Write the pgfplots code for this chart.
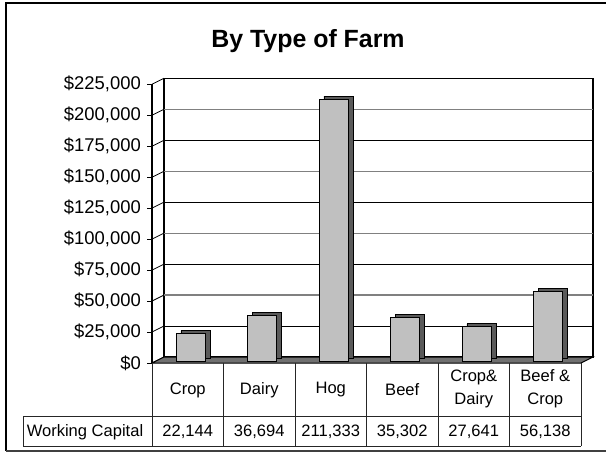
\documentclass[border=0pt]{standalone}
\usepackage{fontspec}
\setmainfont{Liberation Sans}
\usepackage{pgfplots}
\pgfplotsset{compat=1.18}
\usepackage{pgfplotstable}

\definecolor{barface}{HTML}{C0C0C0}
\definecolor{barside}{HTML}{5A5A5A}
\definecolor{floorgray}{HTML}{707070}

% working capital by type of farm
\pgfplotstableread{
idx value
0 22144
1 36694
2 211333
3 35302
4 27641
5 56138
}\farmdata

\pgfplotsset{
  farm/.style={scale only axis, width=429bp, height=278.7bp,
    xmin=-0.5, xmax=5.5, ymin=0, ymax=225000, anchor=south west, clip=false},
  bars/.style={farm, axis lines=none, ybar, bar width=29bp, bar shift=0pt},
}

\begin{document}
\begin{tikzpicture}
\path[use as bounding box] (0,0) rectangle (606bp,-453bp);

\begin{scope}[x=1bp, y=-1bp]
  \draw[line width=2bp] (607,3) -- (6,3) -- (6,451);
  \draw[line width=1.6bp, black!75] (6,451) -- (607,451);
  \node[font=\bfseries\fontsize{25}{29}\selectfont] at (308,41) {By Type of Farm};
  % back wall and grid
  \draw[line width=1.5bp, fill=white] (164,78.3) rectangle (593,357);
  \foreach \k in {1,3,5,7} {
    \draw[line width=0.8bp, black] (164,357-\k*30.967) -- (593,357-\k*30.967);
  }
  \foreach \k in {2,4,6,8} {
    \draw[line width=1.2bp, black!50] (164,357-\k*30.967) -- (593,357-\k*30.967);
  }
  \foreach \k in {0,...,9} {
    \draw[line width=0.8bp] (152,363-\k*30.967) -- (164,357-\k*30.967);
  }
  % floor
  \draw[fill=floorgray, line width=1bp] (152,363) -- (581,363) -- (593,357) -- (164,357) -- cycle;
\end{scope}

\begin{axis}[farm, at={(152bp,-363bp)},
  axis x line=none, axis y line*=left,
  xtick=\empty,
  ytick={0,25000,50000,75000,100000,125000,150000,175000,200000,225000},
  tick align=outside, major tick length=5bp,
  y axis line style={line width=1.5bp},
  ytick style={black, line width=0.8bp},
  scaled y ticks=false,
  yticklabel style={anchor=east, inner sep=0pt, xshift=-6bp, font=\fontsize{18.5}{20}\selectfont},
  yticklabel={\$\pgfmathprintnumber{\tick}},
  /pgf/number format/fixed, /pgf/number format/precision=0,
  /pgf/number format/1000 sep={,},
  /pgf/number format/assume math mode=true]
  \addplot[draw=none] coordinates {(0,0)};
\end{axis}

% bar depth
\begin{axis}[bars, at={(159.7bp,-358bp)}]
  \addplot[fill=barside, draw=black, line width=0.9bp] table[x=idx, y=value] {\farmdata};
\end{axis}
% bar face
\begin{axis}[bars, at={(155.2bp,-361bp)}]
  \addplot[fill=barface, draw=black, line width=1bp] table[x=idx, y=value] {\farmdata};
\end{axis}

\begin{scope}[x=1bp, y=-1bp, font=\fontsize{16.6}{23}\selectfont]
  \foreach \x in {152,223.5,295,366.5,438,509.5,581} {
    \draw[line width=0.8bp, black!85] (\x,363) -- (\x,446);
  }
  \draw[line width=0.8bp, black!85] (23,416) -- (581,416) (23,446) -- (581,446) (23,416) -- (23,446);
  \node at (187.75,390) {Crop};
  \node at (259.25,390) {Dairy};
  \node at (330.75,390) {Hog};
  \node at (402.25,390) {Beef};
  \node[align=center] at (473.75,389) {Crop\&\\Dairy};
  \node[align=center] at (545.25,389) {Beef \&\\Crop};
  \node at (85,432) {Working Capital};
  \node at (187.75,432) {22,144};
  \node at (259.25,432) {36,694};
  \node at (330.75,432) {211,333};
  \node at (402.25,432) {35,302};
  \node at (473.75,432) {27,641};
  \node at (545.25,432) {56,138};
\end{scope}
\end{tikzpicture}
\end{document}
